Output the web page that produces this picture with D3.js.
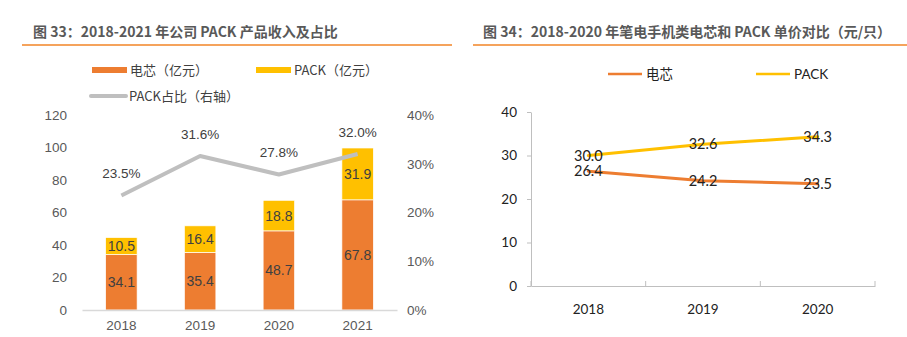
<!DOCTYPE html>
<html><head><meta charset="utf-8">
<script src="https://cdn.jsdelivr.net/npm/d3@7/dist/d3.min.js"></script>
<style>
body{margin:0;background:#fff;}
svg{display:block;}
</style></head>
<body>
<svg id="c" width="907" height="337"></svg>
<script>
// ---- Data: Figure 33 ----
const years1 = ["2018","2019","2020","2021"];
const cellRev = [34.1, 35.4, 48.7, 67.8];
const packRev = [10.5, 16.4, 18.8, 31.9];
const packShare = [0.235, 0.316, 0.278, 0.320];
const leftTicks = [0,20,40,60,80,100,120];
const rightTicks = [0,0.1,0.2,0.3,0.4];
const title1 = "图 33：2018-2021 年公司 PACK 产品收入及占比";
const legend1 = ["电芯（亿元）","PACK（亿元）","PACK占比（右轴）"];

// ---- Data: Figure 34 ----
const years2 = ["2018","2019","2020"];
const cellPrice = [26.4, 24.2, 23.5];
const packPrice = [30.0, 32.6, 34.3];
const yTicks2 = [0,10,20,30,40];
const title2 = "图 34：2018-2020 年笔电手机类电芯和 PACK 单价对比（元/只）";
const legend2 = ["电芯","PACK"];

const C_ORANGE = "#ED7D31", C_YELLOW = "#FFC000", C_GRAY = "#BFBFBF";
const svg = d3.select("#c");
const cjk = "'Noto Sans CJK SC', 'Noto Sans', sans-serif";
const lat = "'Liberation Sans', Arial, sans-serif";

// Titles
function title(x, y, lineX0, lineX1, txt){
  svg.append("text").attr("x", x).attr("y", y).attr("font-family", cjk)
    .attr("font-weight", "bold").attr("font-size", 14).attr("fill", "#595959").text(txt);
  svg.append("line").attr("x1", lineX0).attr("x2", lineX1).attr("y1", 45).attr("y2", 45)
    .attr("stroke", "#F5A35C").attr("stroke-width", 2);
}
title(33, 37, 22, 452, title1);
title(483, 37, 473, 907, title2);

// ---------- Chart 1 ----------
const x1 = d3.scaleBand().domain(years1).range([82, 397]).paddingInner(0.6).paddingOuter(0.3);
const y1 = d3.scaleLinear().domain([0,120]).range([310, 115]);
const y1r = d3.scaleLinear().domain([0,0.4]).range([310, 115]);

// legend 1
const lg1 = svg.append("g").attr("font-family", cjk).attr("font-size", 13).attr("fill", "#404040");
[[92,70,C_ORANGE,legend1[0],6],[256,70,C_YELLOW,legend1[1],6],[91,96,C_GRAY,legend1[2],4]].forEach(([x,y,c,t,w])=>{
  lg1.append("line").attr("x1", x).attr("x2", x+35).attr("y1", y).attr("y2", y).attr("stroke", c).attr("stroke-width", w).attr("stroke-linecap", w===4?"round":"butt");
  lg1.append("text").attr("x", x+38).attr("y", y+5).text(t);
});

const stack = years1.map((yr,i)=>({yr, a:cellRev[i], b:packRev[i]}));
const gBars = svg.append("g");
stack.forEach(d=>{
  gBars.append("rect").attr("x", x1(d.yr)).attr("width", x1.bandwidth())
    .attr("y", y1(d.a)).attr("height", y1(0)-y1(d.a)).attr("fill", C_ORANGE)
    .attr("stroke", "#fff").attr("stroke-width", 0.7);
  gBars.append("rect").attr("x", x1(d.yr)).attr("width", x1.bandwidth())
    .attr("y", y1(d.a+d.b)).attr("height", y1(d.a)-y1(d.a+d.b)).attr("fill", C_YELLOW)
    .attr("stroke", "#fff").attr("stroke-width", 0.7);
  const cx = x1(d.yr)+x1.bandwidth()/2;
  gBars.append("text").attr("x", cx).attr("y", (y1(0)+y1(d.a))/2+5).attr("text-anchor","middle")
    .attr("font-family", lat).attr("font-size", 14).attr("fill", "#404040").text(d.a.toFixed(1));
  gBars.append("text").attr("x", cx).attr("y", (y1(d.a)+y1(d.a+d.b))/2+5).attr("text-anchor","middle")
    .attr("font-family", lat).attr("font-size", 14).attr("fill", "#404040").text(d.b.toFixed(1));
});

// axes chart 1
const axL = svg.append("g").attr("transform","translate(82,0)")
  .call(d3.axisLeft(y1).tickValues(leftTicks).tickSize(0).tickPadding(15));
axL.select(".domain").remove();
const axR = svg.append("g").attr("transform","translate(397,0)")
  .call(d3.axisRight(y1r).tickValues(rightTicks).tickSize(0).tickPadding(10).tickFormat(d3.format(".0%")));
axR.select(".domain").remove();
const axB = svg.append("g").attr("transform","translate(0,310)")
  .call(d3.axisBottom(x1).tickSize(0).tickPadding(10));
axB.select(".domain").attr("stroke", "#D9D9D9").attr("stroke-width", 1.5);
[axL, axR, axB].forEach(a=>a.selectAll("text").attr("font-family", lat).attr("font-size", 13.5).attr("fill", "#595959"));

// share line
const line1 = d3.line().x((d,i)=>x1(years1[i])+x1.bandwidth()/2).y(d=>y1r(d));
svg.append("path").datum(packShare).attr("d", line1).attr("fill","none")
  .attr("stroke", C_GRAY).attr("stroke-width", 4).attr("stroke-linejoin","round");
packShare.forEach((v,i)=>{
  svg.append("text").attr("x", x1(years1[i])+x1.bandwidth()/2).attr("y", y1r(v)-17)
    .attr("text-anchor","middle").attr("font-family", lat).attr("font-size", 13.5).attr("fill", "#404040")
    .text(d3.format(".1%")(v));
});

// ---------- Chart 2 ----------
const f2 = "Lato, 'Open Sans', sans-serif";
const x2 = d3.scaleBand().domain(years2).range([531, 875]);
const y2 = d3.scaleLinear().domain([0,40]).range([286, 112]);

const lg2 = svg.append("g").attr("font-family", cjk).attr("font-size", 13.5).attr("fill", "#222");
[[608,C_ORANGE,legend2[0]],[756,C_YELLOW,legend2[1]]].forEach(([x,c,t])=>{
  lg2.append("line").attr("x1", x).attr("x2", x+34).attr("y1", 74).attr("y2", 74).attr("stroke", c).attr("stroke-width", 2.5);
  lg2.append("text").attr("x", x+38).attr("y", 79).attr("font-family", t==="PACK"?f2:cjk).text(t);
});

const ay2 = svg.append("g").attr("transform","translate(531,0)")
  .call(d3.axisLeft(y2).tickValues(yTicks2).tickSize(4).tickSizeOuter(0).tickPadding(10));
ay2.select(".domain").attr("stroke", "#BFBFBF");
ay2.selectAll(".tick line").attr("stroke", "#BFBFBF");
const ax2 = svg.append("g").attr("transform","translate(0,286)")
  .call(d3.axisBottom(x2).tickSize(0).tickPadding(18));
ax2.select(".domain").attr("stroke", "#BFBFBF");
// category boundary tick marks
const bounds = years2.map(y=>x2(y)+x2.bandwidth()).concat([x2(years2[0])]);
bounds.forEach(b=>{
  ax2.append("line").attr("x1", b).attr("x2", b).attr("y1", 0).attr("y2", -5).attr("stroke", "#BFBFBF");
});
[ay2, ax2].forEach(a=>a.selectAll("text").attr("font-family", f2).attr("font-size", 13.5).attr("fill", "#222"));

const line2 = d3.line().x((d,i)=>x2(years2[i])+x2.bandwidth()/2).y(d=>y2(d));
[[cellPrice, C_ORANGE],[packPrice, C_YELLOW]].forEach(([arr,c])=>{
  svg.append("path").datum(arr).attr("d", line2).attr("fill","none").attr("stroke", c)
    .attr("stroke-width", 3).attr("stroke-linecap","round");
});
[cellPrice, packPrice].forEach(arr=>{
  arr.forEach((v,i)=>{
    svg.append("text").attr("x", x2(years2[i])+x2.bandwidth()/2).attr("y", y2(v)+5)
      .attr("text-anchor","middle").attr("font-family", f2).attr("font-size", 14.5).attr("fill", "#222")
      .text(v.toFixed(1));
  });
});
</script>
</body></html>
